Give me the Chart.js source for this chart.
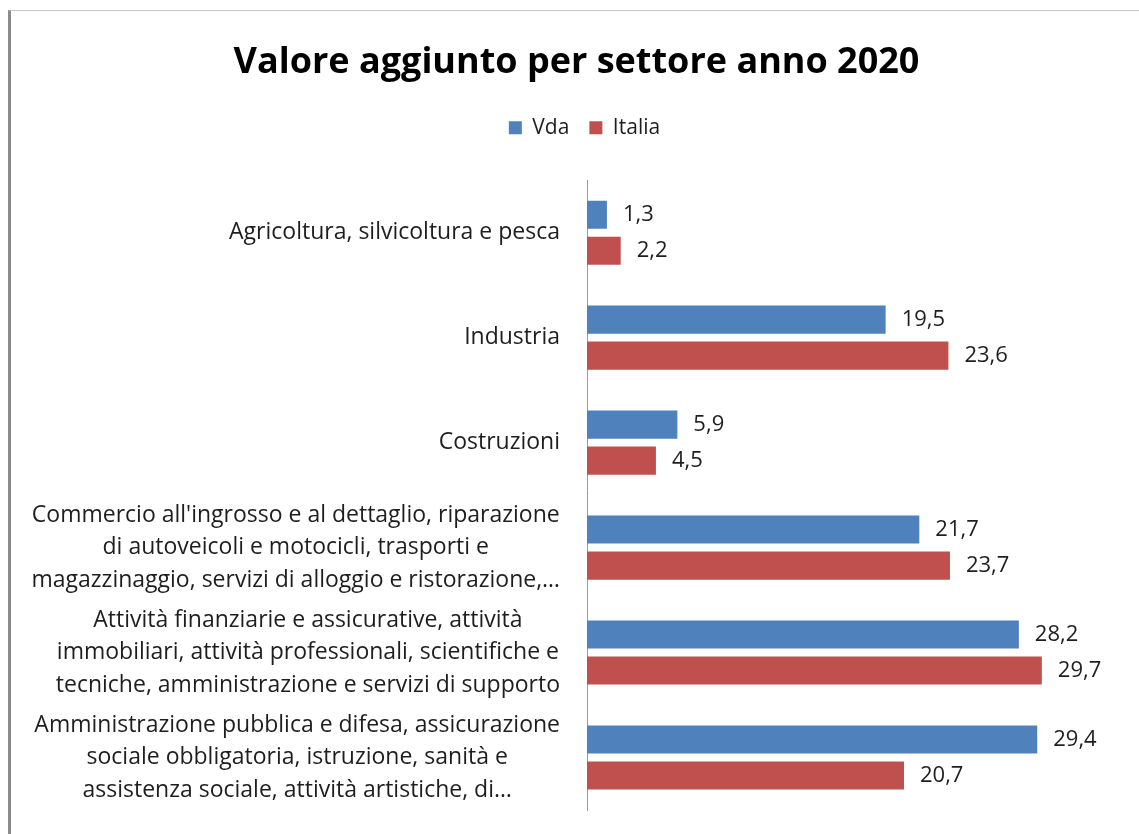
<!DOCTYPE html>
<html>
<head>
<meta charset="utf-8">
<script src="https://cdn.jsdelivr.net/npm/chart.js@4.4.1/dist/chart.umd.min.js"></script>
<style>
  html, body { margin: 0; padding: 0; background: #fff; }
  #wrap { position: absolute; left: 0; top: 0; width: 1139px; height: 834px; }
  #frame { position: absolute; left: 8px; top: 10px; width: 1131px; height: 824px;
           border-left: 3px solid #8a8a8a; border-top: 1px solid #c8c8c8; box-sizing: border-box; }
  canvas { position: absolute; left: 0; top: 0; }
</style>
</head>
<body>
<div id="wrap">
  <div id="frame"></div>
  <canvas id="c" width="1139" height="834"></canvas>
</div>
<script>
const titleText = 'Valore aggiunto per settore anno 2020';
const categories = [
  ['Agricoltura, silvicoltura e pesca'],
  ['Industria'],
  ['Costruzioni'],
  ["Commercio all'ingrosso e al dettaglio, riparazione", 'di autoveicoli e motocicli, trasporti e', 'magazzinaggio, servizi di alloggio e ristorazione,…'],
  ['Attività finanziarie e assicurative, attività', 'immobiliari, attività professionali, scientifiche e', 'tecniche, amministrazione e servizi di supporto'],
  ['Amministrazione pubblica e difesa, assicurazione', 'sociale obbligatoria, istruzione, sanità e', 'assistenza sociale, attività artistiche, di…']
];
const seriesNames = ['Vda', 'Italia'];
const vdaValues = [1.3, 19.5, 5.9, 21.7, 28.2, 29.4];
const italiaValues = [2.2, 23.6, 4.5, 23.7, 29.7, 20.7];

const FONT = '"Open Sans", Lato, sans-serif';
const TEXT_COLOR = '#1e1e1e';
const PAD_LEFT = 30;

const legendSpacer = {
  id: 'legendSpacer',
  beforeInit(chart) {
    const origFit = chart.legend.fit;
    chart.legend.fit = function fit() {
      origFit.bind(chart.legend)();
      this.height += 32;
    };
  },
  afterLayout(chart) {
    const lg = chart.legend;
    if (lg && lg.lineWidths) lg.lineWidths = lg.lineWidths.map(w => w - 16);
  }
};

const catLabelPlugin = {
  id: 'catLabels',
  afterDraw(chart) {
    const ctx = chart.ctx;
    const y = chart.scales.y;
    const right = chart.chartArea.left - 27;
    const lh = 32.5;
    ctx.save();
    ctx.font = '23px ' + FONT;
    ctx.fillStyle = TEXT_COLOR;
    ctx.textBaseline = 'middle';
    ctx.textAlign = 'center';
    categories.forEach((lines, i) => {
      const cy = y.getPixelForTick(i);
      const w = Math.max(...lines.map(l => ctx.measureText(l).width));
      const cx = right - w / 2;
      const start = cy - (lines.length - 1) * lh / 2;
      lines.forEach((l, k) => ctx.fillText(l, cx, start + k * lh));
    });
    ctx.restore();
  }
};

const valueLabelPlugin = {
  id: 'valueLabels',
  afterDatasetsDraw(chart) {
    const ctx = chart.ctx;
    ctx.save();
    ctx.font = '22px ' + FONT;
    ctx.fillStyle = TEXT_COLOR;
    ctx.textBaseline = 'middle';
    ctx.textAlign = 'left';
    chart.data.datasets.forEach((ds, di) => {
      const meta = chart.getDatasetMeta(di);
      meta.data.forEach((el, i) => {
        const txt = ds.data[i].toFixed(1).replace('.', ',');
        ctx.fillText(txt, el.x + 16, el.y);
      });
    });
    ctx.restore();
  }
};

new Chart(document.getElementById('c'), {
  type: 'bar',
  data: {
    labels: categories,
    datasets: [
      { label: seriesNames[0], data: vdaValues, backgroundColor: '#4F81BD' },
      { label: seriesNames[1], data: italiaValues, backgroundColor: '#C0504D' }
    ]
  },
  options: {
    indexAxis: 'y',
    responsive: false,
    animation: false,
    devicePixelRatio: 1,
    categoryPercentage: 0.686,
    barPercentage: 0.78,
    layout: { padding: { left: PAD_LEFT, right: 16, top: 0, bottom: 24 } },
    scales: {
      x: { display: false, min: 0, max: 35 },
      y: {
        display: true,
        grid: { display: false },
        border: { display: true, color: '#9a9a9a', width: 1 },
        ticks: { display: false },
        afterFit(scale) { scale.width = 587 - PAD_LEFT; }
      }
    },
    plugins: {
      title: {
        display: true,
        text: titleText,
        color: '#000',
        font: { family: FONT, size: 36, weight: 'bold' },
        padding: { top: 41, bottom: 13 }
      },
      legend: {
        display: true,
        position: 'top',
        labels: {
          boxWidth: 13, boxHeight: 13,
          color: TEXT_COLOR,
          font: { family: FONT, size: 21 },
          padding: 20
        }
      },
      tooltip: { enabled: false }
    }
  },
  plugins: [legendSpacer, catLabelPlugin, valueLabelPlugin]
});
</script>
</body>
</html>
